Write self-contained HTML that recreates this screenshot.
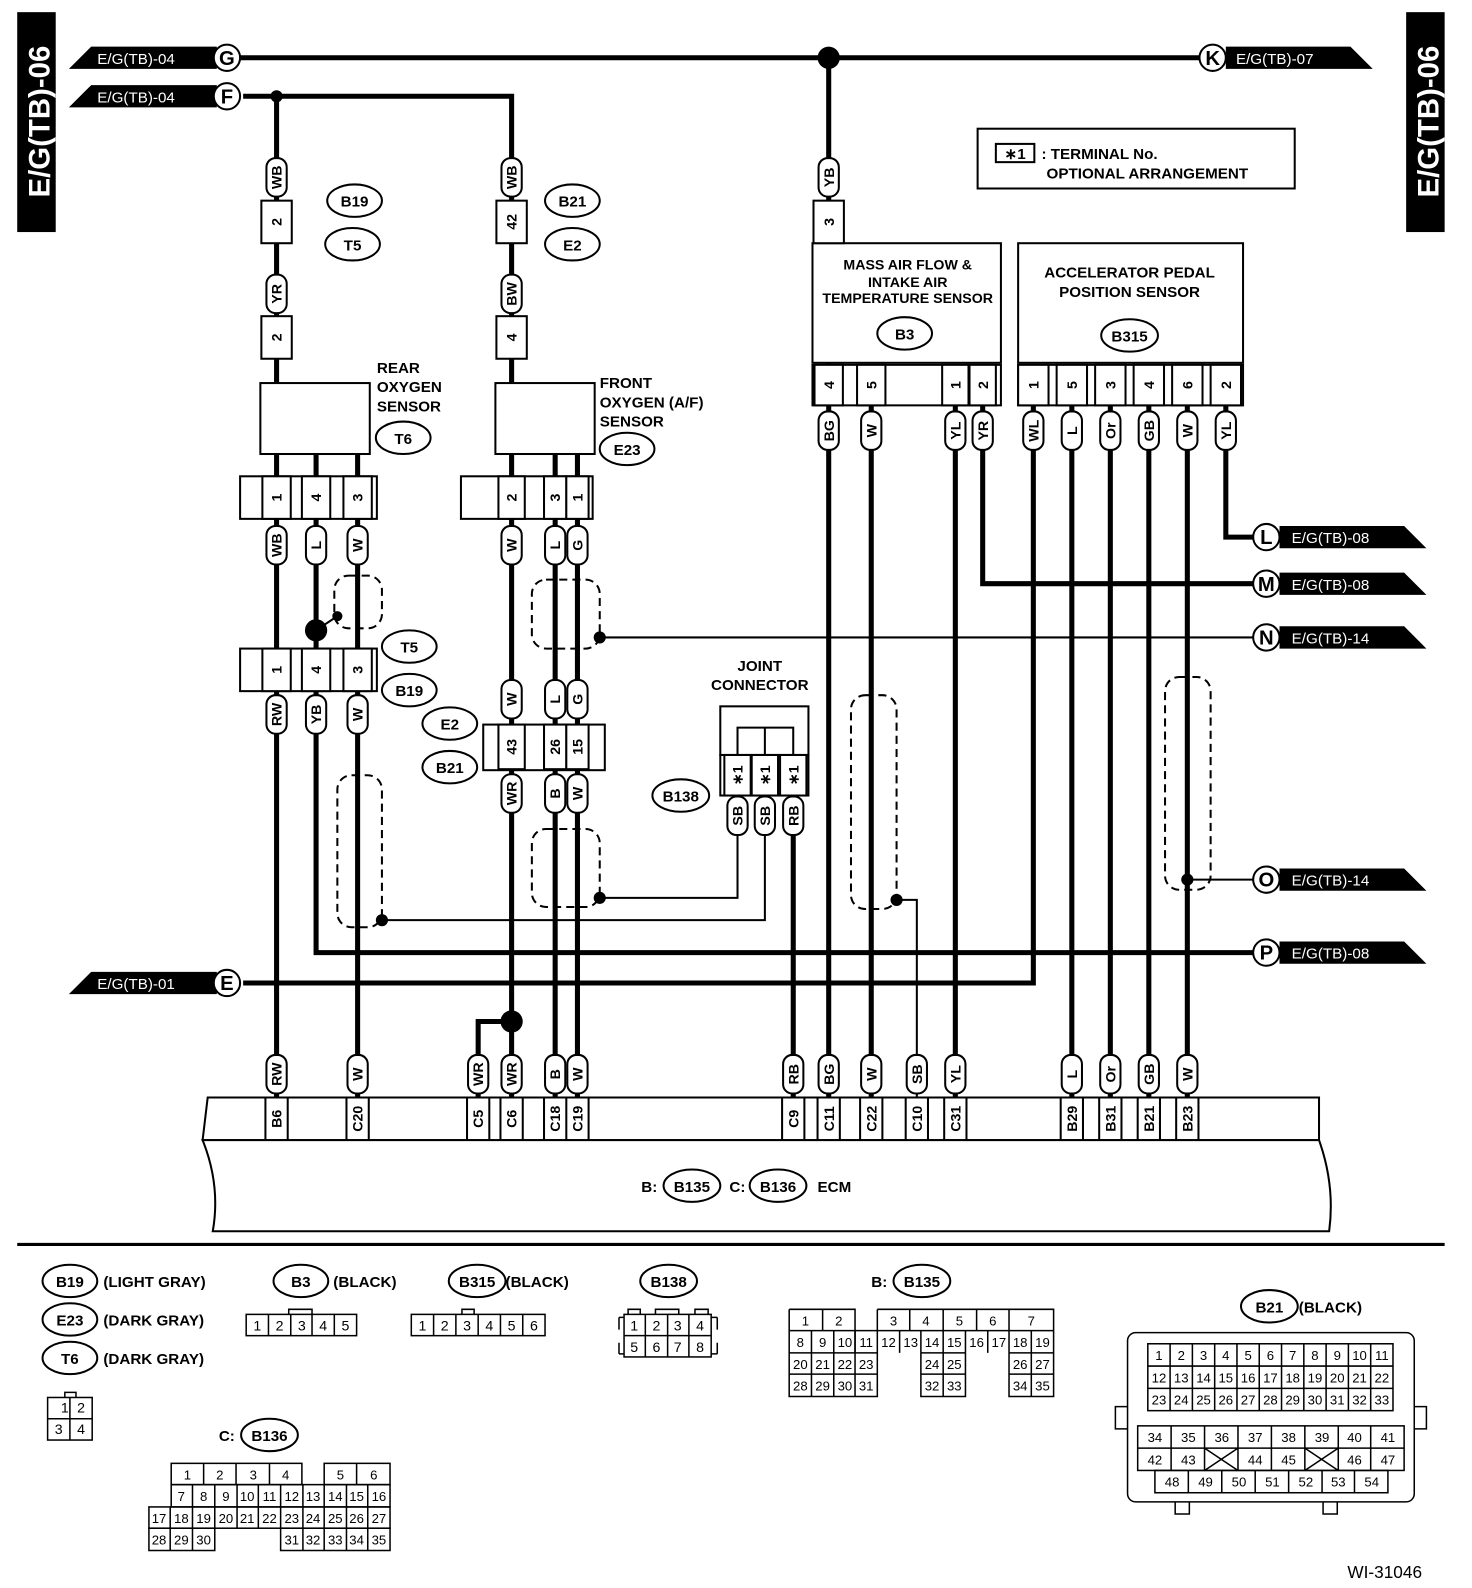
<!DOCTYPE html>
<html><head><meta charset="utf-8"><style>
html,body{margin:0;padding:0;background:#fff}
svg{display:block;font-family:"Liberation Sans",sans-serif;font-weight:bold;font-size:15px}
.w{stroke:#000;stroke-width:5;fill:none}
.t{stroke:#000;stroke-width:2;fill:none}
.sh{stroke:#000;stroke-width:2;fill:none;stroke-dasharray:8 5}
.b{fill:#fff;stroke:#000;stroke-width:2}
.lb text,.c text{font-size:14px;text-anchor:middle}
.g text{font-size:14px;font-weight:normal;text-anchor:middle}
</style></head><body>
<svg width="1472" height="1588" viewBox="0 0 1453 1567" preserveAspectRatio="none">
<rect x="17" y="12" width="38" height="217" fill="#000"/>
<text transform="translate(49,120) rotate(-90)" fill="#fff" font-size="29" text-anchor="middle">E/G(TB)-06</text>
<rect x="1388" y="12" width="38" height="217" fill="#000"/>
<text transform="translate(1420,120) rotate(-90)" fill="#fff" font-size="29" text-anchor="middle">E/G(TB)-06</text>

<path class="w" d="M230,57H1185M240,95H505V1083M273,95V1083M312,448V940H1240M353,448V1083M548,448V1083M570,448V1083M505,1008H472V1083M818,57V1083M860,400V1083M943,400V1083M970,400V576H1240M1020,400V970H240M1058,400V1083M1096,400V1083M1134,400V1083M1172,400V1083M1210,400V530H1240M783,785V1083"/>
<path class="t" d="M728,820V886H592M755,820V908H377M885,888H905V1083M592,629H1240M1172,868H1240M312,622L333,608"/>
<rect class="sh" x="330" y="568" width="47" height="52" rx="14"/>
<rect class="sh" x="525" y="572" width="67" height="68" rx="14"/>
<rect class="sh" x="333" y="765" width="44" height="150" rx="14"/>
<rect class="sh" x="525" y="818" width="67" height="77" rx="14"/>
<rect class="sh" x="840" y="686" width="45" height="211" rx="14"/>
<rect class="sh" x="1150" y="668" width="45" height="210" rx="14"/>
<g fill="#000">
<circle cx="273" cy="95" r="6"/><circle cx="818" cy="57" r="11"/><circle cx="312" cy="622" r="11"/><circle cx="333" cy="608" r="5"/>
<circle cx="592" cy="629" r="6"/><circle cx="592" cy="886" r="6"/><circle cx="377" cy="908" r="6"/><circle cx="885" cy="888" r="6"/>
<circle cx="1172" cy="868" r="6"/><circle cx="505" cy="1008" r="11"/><circle cx="755" cy="718" r="6"/>
</g>

<g>
<polygon points="68,68 90,46 214,46 214,68" fill="#000"/><text x="96" y="63" fill="#fff" font-weight="normal">E/G(TB)-04</text>
<circle class="b" cx="224" cy="57" r="13"/><text x="224" y="64" text-anchor="middle" font-size="20">G</text>
<polygon points="68,106 90,84 214,84 214,106" fill="#000"/><text x="96" y="101" fill="#fff" font-weight="normal">E/G(TB)-04</text>
<circle class="b" cx="224" cy="95" r="13"/><text x="224" y="102" text-anchor="middle" font-size="20">F</text>
<polygon points="68,981 90,959 214,959 214,981" fill="#000"/><text x="96" y="976" fill="#fff" font-weight="normal">E/G(TB)-01</text>
<circle class="b" cx="224" cy="970" r="13"/><text x="224" y="977" text-anchor="middle" font-size="20">E</text>
<polygon points="1210,46 1333,46 1355,68 1210,68" fill="#000"/><text x="1220" y="63" fill="#fff" font-weight="normal">E/G(TB)-07</text>
<circle class="b" cx="1197" cy="57" r="13"/><text x="1197" y="64" text-anchor="middle" font-size="20">K</text>
</g>
<g>
<polygon points="1263,519 1386,519 1408,541 1263,541" fill="#000"/><text x="1275" y="536" fill="#fff" font-weight="normal">E/G(TB)-08</text>
<circle class="b" cx="1250" cy="530" r="13"/><text x="1250" y="537" text-anchor="middle" font-size="20">L</text>
<polygon points="1263,565 1386,565 1408,587 1263,587" fill="#000"/><text x="1275" y="582" fill="#fff" font-weight="normal">E/G(TB)-08</text>
<circle class="b" cx="1250" cy="576" r="13"/><text x="1250" y="583" text-anchor="middle" font-size="20">M</text>
<polygon points="1263,618 1386,618 1408,640 1263,640" fill="#000"/><text x="1275" y="635" fill="#fff" font-weight="normal">E/G(TB)-14</text>
<circle class="b" cx="1250" cy="629" r="13"/><text x="1250" y="636" text-anchor="middle" font-size="20">N</text>
<polygon points="1263,857 1386,857 1408,879 1263,879" fill="#000"/><text x="1275" y="874" fill="#fff" font-weight="normal">E/G(TB)-14</text>
<circle class="b" cx="1250" cy="868" r="13"/><text x="1250" y="875" text-anchor="middle" font-size="20">O</text>
<polygon points="1263,929 1386,929 1408,951 1263,951" fill="#000"/><text x="1275" y="946" fill="#fff" font-weight="normal">E/G(TB)-08</text>
<circle class="b" cx="1250" cy="940" r="13"/><text x="1250" y="947" text-anchor="middle" font-size="20">P</text>
</g>

<rect class="b" x="965" y="127" width="313" height="59"/>
<rect class="b" x="983" y="142" width="38" height="18"/><text x="1002" y="157" text-anchor="middle">∗1</text>
<text x="1028" y="157">: TERMINAL No.</text><text x="1033" y="176">OPTIONAL ARRANGEMENT</text>

<rect class="b" x="257" y="378" width="108" height="70"/>
<rect class="b" x="489" y="378" width="98" height="70"/>
<text x="372" y="368">REAR</text><text x="372" y="387">OXYGEN</text><text x="372" y="406">SENSOR</text>
<text x="592" y="383">FRONT</text><text x="592" y="402">OXYGEN (A/F)</text><text x="592" y="421">SENSOR</text>
<rect class="b" x="802" y="240" width="186" height="118"/>
<text x="896" y="266" text-anchor="middle" font-size="14">MASS AIR FLOW &amp;</text>
<text x="896" y="283" text-anchor="middle" font-size="14">INTAKE AIR</text>
<text x="896" y="299" text-anchor="middle" font-size="14">TEMPERATURE SENSOR</text>
<rect class="b" x="1005" y="240" width="222" height="118"/>
<text x="1115" y="274" text-anchor="middle">ACCELERATOR PEDAL</text>
<text x="1115" y="293" text-anchor="middle">POSITION SENSOR</text>

<text x="750" y="662" text-anchor="middle">JOINT</text><text x="750" y="681" text-anchor="middle">CONNECTOR</text>
<rect class="b" x="711" y="697" width="87" height="48"/>
<path class="t" d="M728,745V718H783V745M755,718V745"/>

<g class="c">
<rect class="b" x="237" y="470" width="135" height="42"/><rect class="b" x="237" y="640" width="135" height="42"/>
<rect class="b" x="455" y="470" width="130" height="42"/><rect class="b" x="477" y="715" width="120" height="45"/>
<rect class="b" x="802" y="360" width="186" height="40"/><rect class="b" x="1005" y="360" width="222" height="40"/>
<rect class="b" x="711" y="745" width="87" height="40"/>
</g>
<g class="c">
<g transform="translate(273,219) rotate(-90)"><rect class="b" x="-21" y="-15" width="42" height="30"/><text y="5">2</text></g>
<g transform="translate(273,333) rotate(-90)"><rect class="b" x="-21" y="-15" width="42" height="30"/><text y="5">2</text></g>
<g transform="translate(505,219) rotate(-90)"><rect class="b" x="-21" y="-15" width="42" height="30"/><text y="5">42</text></g>
<g transform="translate(505,333) rotate(-90)"><rect class="b" x="-21" y="-15" width="42" height="30"/><text y="5">4</text></g>
<g transform="translate(818,219) rotate(-90)"><rect class="b" x="-21" y="-15" width="42" height="30"/><text y="5">3</text></g>
<g transform="translate(273,491) rotate(-90)"><rect class="b" x="-21" y="-14" width="42" height="28"/><text y="5">1</text></g>
<g transform="translate(312,491) rotate(-90)"><rect class="b" x="-21" y="-14" width="42" height="28"/><text y="5">4</text></g>
<g transform="translate(353,491) rotate(-90)"><rect class="b" x="-21" y="-14" width="42" height="28"/><text y="5">3</text></g>
<g transform="translate(273,661) rotate(-90)"><rect class="b" x="-21" y="-14" width="42" height="28"/><text y="5">1</text></g>
<g transform="translate(312,661) rotate(-90)"><rect class="b" x="-21" y="-14" width="42" height="28"/><text y="5">4</text></g>
<g transform="translate(353,661) rotate(-90)"><rect class="b" x="-21" y="-14" width="42" height="28"/><text y="5">3</text></g>
<g transform="translate(505,491) rotate(-90)"><rect class="b" x="-21" y="-13" width="42" height="26"/><text y="5">2</text></g>
<g transform="translate(548,491) rotate(-90)"><rect class="b" x="-21" y="-11" width="42" height="22"/><text y="5">3</text></g>
<g transform="translate(570,491) rotate(-90)"><rect class="b" x="-21" y="-11" width="42" height="22"/><text y="5">1</text></g>
<g transform="translate(505,737) rotate(-90)"><rect class="b" x="-22" y="-13" width="44" height="26"/><text y="5">43</text></g>
<g transform="translate(548,737) rotate(-90)"><rect class="b" x="-22" y="-11" width="44" height="22"/><text y="5">26</text></g>
<g transform="translate(570,737) rotate(-90)"><rect class="b" x="-22" y="-11" width="44" height="22"/><text y="5">15</text></g>
<g transform="translate(818,380) rotate(-90)"><rect class="b" x="-20" y="-14" width="40" height="28"/><text y="5">4</text></g>
<g transform="translate(860,380) rotate(-90)"><rect class="b" x="-20" y="-14" width="40" height="28"/><text y="5">5</text></g>
<g transform="translate(943,380) rotate(-90)"><rect class="b" x="-20" y="-13" width="40" height="26"/><text y="5">1</text></g>
<g transform="translate(970,380) rotate(-90)"><rect class="b" x="-20" y="-13" width="40" height="26"/><text y="5">2</text></g>
<g transform="translate(1020,380) rotate(-90)"><rect class="b" x="-20" y="-15" width="40" height="30"/><text y="5">1</text></g>
<g transform="translate(1058,380) rotate(-90)"><rect class="b" x="-20" y="-15" width="40" height="30"/><text y="5">5</text></g>
<g transform="translate(1096,380) rotate(-90)"><rect class="b" x="-20" y="-15" width="40" height="30"/><text y="5">3</text></g>
<g transform="translate(1134,380) rotate(-90)"><rect class="b" x="-20" y="-15" width="40" height="30"/><text y="5">4</text></g>
<g transform="translate(1172,380) rotate(-90)"><rect class="b" x="-20" y="-15" width="40" height="30"/><text y="5">6</text></g>
<g transform="translate(1210,380) rotate(-90)"><rect class="b" x="-20" y="-15" width="40" height="30"/><text y="5">2</text></g>
<g transform="translate(728,765) rotate(-90)"><rect class="b" x="-20" y="-13" width="40" height="26"/><text y="5">∗1</text></g>
<g transform="translate(755,765) rotate(-90)"><rect class="b" x="-20" y="-13" width="40" height="26"/><text y="5">∗1</text></g>
<g transform="translate(783,765) rotate(-90)"><rect class="b" x="-20" y="-13" width="40" height="26"/><text y="5">∗1</text></g>
</g>

<g class="lb">
<g transform="translate(273,175) rotate(-90)"><rect class="b" x="-19" y="-10" width="38" height="20" rx="9"/><text y="5">WB</text></g>
<g transform="translate(273,290) rotate(-90)"><rect class="b" x="-19" y="-10" width="38" height="20" rx="9"/><text y="5">YR</text></g>
<g transform="translate(273,538) rotate(-90)"><rect class="b" x="-19" y="-10" width="38" height="20" rx="9"/><text y="5">WB</text></g>
<g transform="translate(312,538) rotate(-90)"><rect class="b" x="-19" y="-10" width="38" height="20" rx="9"/><text y="5">L</text></g>
<g transform="translate(353,538) rotate(-90)"><rect class="b" x="-19" y="-10" width="38" height="20" rx="9"/><text y="5">W</text></g>
<g transform="translate(273,705) rotate(-90)"><rect class="b" x="-19" y="-10" width="38" height="20" rx="9"/><text y="5">RW</text></g>
<g transform="translate(312,705) rotate(-90)"><rect class="b" x="-19" y="-10" width="38" height="20" rx="9"/><text y="5">YB</text></g>
<g transform="translate(353,705) rotate(-90)"><rect class="b" x="-19" y="-10" width="38" height="20" rx="9"/><text y="5">W</text></g>
<g transform="translate(273,1060) rotate(-90)"><rect class="b" x="-19" y="-10" width="38" height="20" rx="9"/><text y="5">RW</text></g>
<g transform="translate(353,1060) rotate(-90)"><rect class="b" x="-19" y="-10" width="38" height="20" rx="9"/><text y="5">W</text></g>
<g transform="translate(505,175) rotate(-90)"><rect class="b" x="-19" y="-10" width="38" height="20" rx="9"/><text y="5">WB</text></g>
<g transform="translate(505,290) rotate(-90)"><rect class="b" x="-19" y="-10" width="38" height="20" rx="9"/><text y="5">BW</text></g>
<g transform="translate(505,538) rotate(-90)"><rect class="b" x="-19" y="-10" width="38" height="20" rx="9"/><text y="5">W</text></g>
<g transform="translate(548,538) rotate(-90)"><rect class="b" x="-19" y="-10" width="38" height="20" rx="9"/><text y="5">L</text></g>
<g transform="translate(570,538) rotate(-90)"><rect class="b" x="-19" y="-10" width="38" height="20" rx="9"/><text y="5">G</text></g>
<g transform="translate(505,690) rotate(-90)"><rect class="b" x="-19" y="-10" width="38" height="20" rx="9"/><text y="5">W</text></g>
<g transform="translate(548,690) rotate(-90)"><rect class="b" x="-19" y="-10" width="38" height="20" rx="9"/><text y="5">L</text></g>
<g transform="translate(570,690) rotate(-90)"><rect class="b" x="-19" y="-10" width="38" height="20" rx="9"/><text y="5">G</text></g>
<g transform="translate(505,783) rotate(-90)"><rect class="b" x="-19" y="-10" width="38" height="20" rx="9"/><text y="5">WR</text></g>
<g transform="translate(548,783) rotate(-90)"><rect class="b" x="-19" y="-10" width="38" height="20" rx="9"/><text y="5">B</text></g>
<g transform="translate(570,783) rotate(-90)"><rect class="b" x="-19" y="-10" width="38" height="20" rx="9"/><text y="5">W</text></g>
<g transform="translate(472,1060) rotate(-90)"><rect class="b" x="-19" y="-10" width="38" height="20" rx="9"/><text y="5">WR</text></g>
<g transform="translate(505,1060) rotate(-90)"><rect class="b" x="-19" y="-10" width="38" height="20" rx="9"/><text y="5">WR</text></g>
<g transform="translate(548,1060) rotate(-90)"><rect class="b" x="-19" y="-10" width="38" height="20" rx="9"/><text y="5">B</text></g>
<g transform="translate(570,1060) rotate(-90)"><rect class="b" x="-19" y="-10" width="38" height="20" rx="9"/><text y="5">W</text></g>
<g transform="translate(818,175) rotate(-90)"><rect class="b" x="-19" y="-10" width="38" height="20" rx="9"/><text y="5">YB</text></g>
<g transform="translate(818,425) rotate(-90)"><rect class="b" x="-19" y="-10" width="38" height="20" rx="9"/><text y="5">BG</text></g>
<g transform="translate(860,425) rotate(-90)"><rect class="b" x="-19" y="-10" width="38" height="20" rx="9"/><text y="5">W</text></g>
<g transform="translate(943,425) rotate(-90)"><rect class="b" x="-19" y="-10" width="38" height="20" rx="9"/><text y="5">YL</text></g>
<g transform="translate(970,425) rotate(-90)"><rect class="b" x="-19" y="-10" width="38" height="20" rx="9"/><text y="5">YR</text></g>
<g transform="translate(1020,425) rotate(-90)"><rect class="b" x="-19" y="-10" width="38" height="20" rx="9"/><text y="5">WL</text></g>
<g transform="translate(1058,425) rotate(-90)"><rect class="b" x="-19" y="-10" width="38" height="20" rx="9"/><text y="5">L</text></g>
<g transform="translate(1096,425) rotate(-90)"><rect class="b" x="-19" y="-10" width="38" height="20" rx="9"/><text y="5">Or</text></g>
<g transform="translate(1134,425) rotate(-90)"><rect class="b" x="-19" y="-10" width="38" height="20" rx="9"/><text y="5">GB</text></g>
<g transform="translate(1172,425) rotate(-90)"><rect class="b" x="-19" y="-10" width="38" height="20" rx="9"/><text y="5">W</text></g>
<g transform="translate(1210,425) rotate(-90)"><rect class="b" x="-19" y="-10" width="38" height="20" rx="9"/><text y="5">YL</text></g>
<g transform="translate(728,805) rotate(-90)"><rect class="b" x="-19" y="-10" width="38" height="20" rx="9"/><text y="5">SB</text></g>
<g transform="translate(755,805) rotate(-90)"><rect class="b" x="-19" y="-10" width="38" height="20" rx="9"/><text y="5">SB</text></g>
<g transform="translate(783,805) rotate(-90)"><rect class="b" x="-19" y="-10" width="38" height="20" rx="9"/><text y="5">RB</text></g>
<g transform="translate(783,1060) rotate(-90)"><rect class="b" x="-19" y="-10" width="38" height="20" rx="9"/><text y="5">RB</text></g>
<g transform="translate(818,1060) rotate(-90)"><rect class="b" x="-19" y="-10" width="38" height="20" rx="9"/><text y="5">BG</text></g>
<g transform="translate(860,1060) rotate(-90)"><rect class="b" x="-19" y="-10" width="38" height="20" rx="9"/><text y="5">W</text></g>
<g transform="translate(905,1060) rotate(-90)"><rect class="b" x="-19" y="-10" width="38" height="20" rx="9"/><text y="5">SB</text></g>
<g transform="translate(943,1060) rotate(-90)"><rect class="b" x="-19" y="-10" width="38" height="20" rx="9"/><text y="5">YL</text></g>
<g transform="translate(1058,1060) rotate(-90)"><rect class="b" x="-19" y="-10" width="38" height="20" rx="9"/><text y="5">L</text></g>
<g transform="translate(1096,1060) rotate(-90)"><rect class="b" x="-19" y="-10" width="38" height="20" rx="9"/><text y="5">Or</text></g>
<g transform="translate(1134,1060) rotate(-90)"><rect class="b" x="-19" y="-10" width="38" height="20" rx="9"/><text y="5">GB</text></g>
<g transform="translate(1172,1060) rotate(-90)"><rect class="b" x="-19" y="-10" width="38" height="20" rx="9"/><text y="5">W</text></g>
</g>

<g font-size="15" text-anchor="middle">
<ellipse class="b" cx="350" cy="198" rx="27" ry="16"/><text x="350" y="204">B19</text>
<ellipse class="b" cx="348" cy="241" rx="27" ry="16"/><text x="348" y="247">T5</text>
<ellipse class="b" cx="398" cy="432" rx="27" ry="16"/><text x="398" y="438">T6</text>
<ellipse class="b" cx="404" cy="638" rx="27" ry="16"/><text x="404" y="644">T5</text>
<ellipse class="b" cx="404" cy="681" rx="27" ry="16"/><text x="404" y="687">B19</text>
<ellipse class="b" cx="565" cy="198" rx="27" ry="16"/><text x="565" y="204">B21</text>
<ellipse class="b" cx="565" cy="241" rx="27" ry="16"/><text x="565" y="247">E2</text>
<ellipse class="b" cx="619" cy="443" rx="27" ry="16"/><text x="619" y="449">E23</text>
<ellipse class="b" cx="444" cy="714" rx="27" ry="16"/><text x="444" y="720">E2</text>
<ellipse class="b" cx="444" cy="757" rx="27" ry="16"/><text x="444" y="763">B21</text>
<ellipse class="b" cx="672" cy="785" rx="28" ry="16"/><text x="672" y="791">B138</text>
<ellipse class="b" cx="893" cy="329" rx="27" ry="16"/><text x="893" y="335">B3</text>
<ellipse class="b" cx="1115" cy="331" rx="28" ry="16"/><text x="1115" y="337">B315</text>
</g>

<path class="b" d="M205,1083H1302V1125H200Z" stroke-width="3"/>
<path class="b" d="M200,1125H1302Q1318,1170 1312,1215H210Q218,1170 200,1125Z" stroke-width="3"/>
<g class="c">
<g transform="translate(273,1104) rotate(-90)"><text y="5">B6</text></g>
<g transform="translate(353,1104) rotate(-90)"><text y="5">C20</text></g>
<g transform="translate(472,1104) rotate(-90)"><text y="5">C5</text></g>
<g transform="translate(505,1104) rotate(-90)"><text y="5">C6</text></g>
<g transform="translate(548,1104) rotate(-90)"><text y="5">C18</text></g>
<g transform="translate(570,1104) rotate(-90)"><text y="5">C19</text></g>
<g transform="translate(783,1104) rotate(-90)"><text y="5">C9</text></g>
<g transform="translate(818,1104) rotate(-90)"><text y="5">C11</text></g>
<g transform="translate(860,1104) rotate(-90)"><text y="5">C22</text></g>
<g transform="translate(905,1104) rotate(-90)"><text y="5">C10</text></g>
<g transform="translate(943,1104) rotate(-90)"><text y="5">C31</text></g>
<g transform="translate(1058,1104) rotate(-90)"><text y="5">B29</text></g>
<g transform="translate(1096,1104) rotate(-90)"><text y="5">B31</text></g>
<g transform="translate(1134,1104) rotate(-90)"><text y="5">B21</text></g>
<g transform="translate(1172,1104) rotate(-90)"><text y="5">B23</text></g>
</g>
<path class="t" d="M262,1083V1125M284,1083V1125M342,1083V1125M364,1083V1125M461,1083V1125M483,1083V1125M494,1083V1125M516,1083V1125M537,1083V1125M559,1083V1125M581,1083V1125M772,1083V1125M794,1083V1125M807,1083V1125M829,1083V1125M849,1083V1125M871,1083V1125M894,1083V1125M916,1083V1125M932,1083V1125M954,1083V1125M1047,1083V1125M1069,1083V1125M1085,1083V1125M1107,1083V1125M1123,1083V1125M1145,1083V1125M1161,1083V1125M1183,1083V1125"/>
<text x="633" y="1176">B:</text>
<ellipse class="b" cx="683" cy="1170" rx="28" ry="16"/><text x="683" y="1176" text-anchor="middle">B135</text>
<text x="720" y="1176">C:</text>
<ellipse class="b" cx="768" cy="1170" rx="28" ry="16"/><text x="768" y="1176" text-anchor="middle">B136</text>
<text x="807" y="1176">ECM</text>

<line x1="17" y1="1228" x2="1426" y2="1228" stroke="#000" stroke-width="3"/>

<g font-size="15">
<ellipse class="b" cx="69" cy="1264" rx="27" ry="16"/><text x="69" y="1270" text-anchor="middle">B19</text><text x="102" y="1270">(LIGHT GRAY)</text>
<ellipse class="b" cx="69" cy="1302" rx="27" ry="16"/><text x="69" y="1308" text-anchor="middle">E23</text><text x="102" y="1308">(DARK GRAY)</text>
<ellipse class="b" cx="69" cy="1340" rx="27" ry="16"/><text x="69" y="1346" text-anchor="middle">T6</text><text x="102" y="1346">(DARK GRAY)</text>
<ellipse class="b" cx="297" cy="1264" rx="27" ry="16"/><text x="297" y="1270" text-anchor="middle">B3</text><text x="329" y="1270">(BLACK)</text>
<ellipse class="b" cx="471" cy="1264" rx="28" ry="16"/><text x="471" y="1270" text-anchor="middle">B315</text><text x="499" y="1270">(BLACK)</text>
<ellipse class="b" cx="660" cy="1264" rx="28" ry="16"/><text x="660" y="1270" text-anchor="middle">B138</text>
<text x="860" y="1270">B:</text><ellipse class="b" cx="910" cy="1264" rx="28" ry="16"/><text x="910" y="1270" text-anchor="middle">B135</text>
<text x="216" y="1422">C:</text><ellipse class="b" cx="266" cy="1416" rx="28" ry="16"/><text x="266" y="1422" text-anchor="middle">B136</text>
<ellipse class="b" cx="1253" cy="1289" rx="28" ry="16"/><text x="1253" y="1295" text-anchor="middle">B21</text><text x="1282" y="1295">(BLACK)</text>
<text x="1330" y="1557" font-weight="normal" font-size="17">WI-31046</text>
</g>

<g class="g" stroke="#000" stroke-width="1.5">
<path fill="none" d="M64,1379V1374H75V1379"/>
<rect x="47" y="1379" width="44" height="42" fill="none"/><path d="M69,1379V1421M47,1400H91"/>
<path fill="none" d="M285,1297V1292H308V1297"/>
<rect x="243" y="1297" width="109" height="21" fill="none"/><path d="M265,1297V1318M287,1297V1318M308,1297V1318M330,1297V1318"/>
<path fill="none" d="M456,1297V1292H468V1297"/>
<rect x="406" y="1297" width="132" height="21" fill="none"/><path d="M428,1297V1318M450,1297V1318M472,1297V1318M494,1297V1318M516,1297V1318"/>
<rect x="616" y="1297" width="86" height="42" fill="none"/><path d="M637,1297V1339M659,1297V1339M680,1297V1339M616,1318H702M611,1300H616M611,1336H616M702,1300H708M702,1336H708M611,1300V1312M611,1325V1336M708,1300V1312M708,1325V1336M620,1297V1292H632V1297M647,1297V1292H670V1297M686,1297V1292H699V1297" fill="none"/>
</g>
<g font-size="14" text-anchor="middle" font-weight="normal">
<text x="64" y="1394">1</text><text x="80" y="1394">2</text><text x="58" y="1415">3</text><text x="80" y="1415">4</text>
<text x="254" y="1313">1</text><text x="276" y="1313">2</text><text x="298" y="1313">3</text><text x="319" y="1313">4</text><text x="341" y="1313">5</text>
<text x="417" y="1313">1</text><text x="439" y="1313">2</text><text x="461" y="1313">3</text><text x="483" y="1313">4</text><text x="505" y="1313">5</text><text x="527" y="1313">6</text>
<text x="626" y="1313">1</text><text x="648" y="1313">2</text><text x="669" y="1313">3</text><text x="691" y="1313">4</text>
<text x="626" y="1334">5</text><text x="648" y="1334">6</text><text x="669" y="1334">7</text><text x="691" y="1334">8</text>
</g>

<g stroke="#000" stroke-width="1.5" fill="none">
<path d="M779,1292H844V1313M779,1292V1378H866V1335M812,1292V1313M866,1292H1040V1378H996V1335M866,1292V1335M898,1292V1313M931,1292V1313M964,1292V1313M996,1292V1313M779,1313H1040M779,1335H866M909,1335V1378H953V1335M909,1335H953M996,1335H1040M779,1356H866M909,1356H953M996,1356H1040M844,1313V1335"/>
<path d="M801,1313V1378M823,1313V1378M844,1313V1378M888,1313V1335M909,1313V1335M931,1313V1378M953,1313V1335M975,1313V1335M996,1313V1335M1018,1313V1378"/>
</g>
<g font-size="13" text-anchor="middle" font-weight="normal">
<text x="795" y="1308">1</text><text x="828" y="1308">2</text><text x="882" y="1308">3</text><text x="914" y="1308">4</text><text x="947" y="1308">5</text><text x="980" y="1308">6</text><text x="1018" y="1308">7</text>
<text x="790" y="1329">8</text><text x="812" y="1329">9</text><text x="834" y="1329">10</text><text x="855" y="1329">11</text><text x="877" y="1329">12</text><text x="899" y="1329">13</text><text x="920" y="1329">14</text><text x="942" y="1329">15</text><text x="964" y="1329">16</text><text x="986" y="1329">17</text><text x="1007" y="1329">18</text><text x="1029" y="1329">19</text>
<text x="790" y="1351">20</text><text x="812" y="1351">21</text><text x="834" y="1351">22</text><text x="855" y="1351">23</text><text x="920" y="1351">24</text><text x="942" y="1351">25</text><text x="1007" y="1351">26</text><text x="1029" y="1351">27</text>
<text x="790" y="1372">28</text><text x="812" y="1372">29</text><text x="834" y="1372">30</text><text x="855" y="1372">31</text><text x="920" y="1372">32</text><text x="942" y="1372">33</text><text x="1007" y="1372">34</text><text x="1029" y="1372">35</text>
</g>

<g stroke="#000" stroke-width="1.5" fill="none">
<rect x="169" y="1444" width="129" height="21"/><rect x="320" y="1444" width="65" height="21"/>
<path d="M201,1444V1465M233,1444V1465M266,1444V1465M352,1444V1465"/>
<rect x="169" y="1465" width="216" height="22"/>
<rect x="147" y="1487" width="238" height="21"/>
<rect x="147" y="1508" width="65" height="22"/><rect x="277" y="1508" width="108" height="22"/>
<path d="M190,1465V1530M212,1465V1508M234,1465V1508M255,1465V1508M277,1465V1508M299,1465V1530M320,1465V1530M342,1465V1530M363,1465V1530M168,1487V1530"/>
</g>
<g font-size="13" text-anchor="middle" font-weight="normal">
<text x="185" y="1460">1</text><text x="217" y="1460">2</text><text x="250" y="1460">3</text><text x="282" y="1460">4</text><text x="336" y="1460">5</text><text x="369" y="1460">6</text>
<text x="179" y="1481">7</text><text x="201" y="1481">8</text><text x="223" y="1481">9</text><text x="244" y="1481">10</text><text x="266" y="1481">11</text><text x="288" y="1481">12</text><text x="309" y="1481">13</text><text x="331" y="1481">14</text><text x="352" y="1481">15</text><text x="374" y="1481">16</text>
<text x="157" y="1503">17</text><text x="179" y="1503">18</text><text x="201" y="1503">19</text><text x="223" y="1503">20</text><text x="244" y="1503">21</text><text x="266" y="1503">22</text><text x="288" y="1503">23</text><text x="309" y="1503">24</text><text x="331" y="1503">25</text><text x="352" y="1503">26</text><text x="374" y="1503">27</text>
<text x="157" y="1524">28</text><text x="179" y="1524">29</text><text x="201" y="1524">30</text><text x="288" y="1524">31</text><text x="309" y="1524">32</text><text x="331" y="1524">33</text><text x="352" y="1524">34</text><text x="374" y="1524">35</text>
</g>

<g stroke="#000" stroke-width="1.5" fill="none">
<rect x="1113" y="1315" width="283" height="167" rx="8"/>
<path d="M1113,1388H1101V1410H1113M1396,1388H1408V1410H1396M1160,1482V1494H1174V1482M1306,1482V1494H1320V1482"/>
<rect x="1133" y="1326" width="242" height="66"/>
<path d="M1133,1348H1375M1133,1370H1375M1155,1326V1392M1177,1326V1392M1199,1326V1392M1221,1326V1392M1243,1326V1392M1265,1326V1392M1287,1326V1392M1309,1326V1392M1331,1326V1392M1353,1326V1392"/>
<rect x="1123" y="1407" width="263" height="44"/>
<path d="M1123,1429H1386M1156,1407V1451M1189,1407V1451M1222,1407V1451M1255,1407V1451M1288,1407V1451M1321,1407V1451M1353,1407V1451M1189,1429L1222,1451M1222,1429L1189,1451M1288,1429L1321,1451M1321,1429L1288,1451"/>
<rect x="1140" y="1451" width="230" height="22"/>
<path d="M1173,1451V1473M1206,1451V1473M1239,1451V1473M1272,1451V1473M1305,1451V1473M1337,1451V1473"/>
</g>
<g font-size="13" text-anchor="middle" font-weight="normal">
<text x="1144" y="1342">1</text><text x="1166" y="1342">2</text><text x="1188" y="1342">3</text><text x="1210" y="1342">4</text><text x="1232" y="1342">5</text><text x="1254" y="1342">6</text><text x="1276" y="1342">7</text><text x="1298" y="1342">8</text><text x="1320" y="1342">9</text><text x="1342" y="1342">10</text><text x="1364" y="1342">11</text>
<text x="1144" y="1364">12</text><text x="1166" y="1364">13</text><text x="1188" y="1364">14</text><text x="1210" y="1364">15</text><text x="1232" y="1364">16</text><text x="1254" y="1364">17</text><text x="1276" y="1364">18</text><text x="1298" y="1364">19</text><text x="1320" y="1364">20</text><text x="1342" y="1364">21</text><text x="1364" y="1364">22</text>
<text x="1144" y="1386">23</text><text x="1166" y="1386">24</text><text x="1188" y="1386">25</text><text x="1210" y="1386">26</text><text x="1232" y="1386">27</text><text x="1254" y="1386">28</text><text x="1276" y="1386">29</text><text x="1298" y="1386">30</text><text x="1320" y="1386">31</text><text x="1342" y="1386">32</text><text x="1364" y="1386">33</text>
<text x="1140" y="1423">34</text><text x="1173" y="1423">35</text><text x="1206" y="1423">36</text><text x="1239" y="1423">37</text><text x="1272" y="1423">38</text><text x="1305" y="1423">39</text><text x="1337" y="1423">40</text><text x="1370" y="1423">41</text>
<text x="1140" y="1445">42</text><text x="1173" y="1445">43</text><text x="1239" y="1445">44</text><text x="1272" y="1445">45</text><text x="1337" y="1445">46</text><text x="1370" y="1445">47</text>
<text x="1157" y="1467">48</text><text x="1190" y="1467">49</text><text x="1223" y="1467">50</text><text x="1256" y="1467">51</text><text x="1289" y="1467">52</text><text x="1321" y="1467">53</text><text x="1354" y="1467">54</text>
</g>
</svg>
</body></html>
